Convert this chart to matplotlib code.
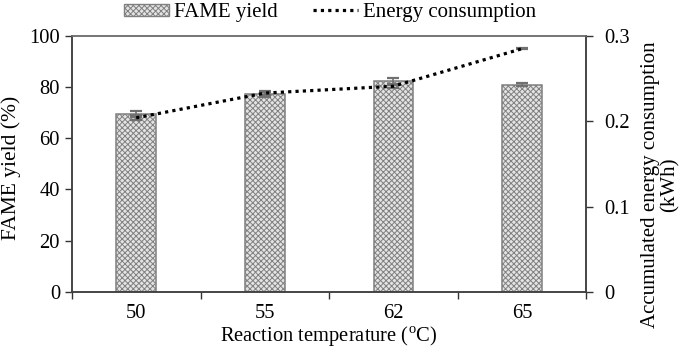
import numpy as np
import matplotlib
matplotlib.use("Agg")
import matplotlib.pyplot as plt
from matplotlib.lines import Line2D
from matplotlib.patches import Patch

plt.rcParams['font.family'] = ['Liberation Serif', 'DejaVu Serif']
plt.rcParams['mathtext.fontset'] = 'custom'
plt.rcParams['mathtext.rm'] = 'Liberation Serif'
plt.rcParams['hatch.color'] = '#9a9a9a'
plt.rcParams['hatch.linewidth'] = 0.7

# datos
temps = ["50", "55", "62", "65"]
fame = [69.5, 77.2, 82.5, 81.0]
fame_err = [1.0, 1.0, 1.2, 0.6]
energy = [0.204, 0.233, 0.241, 0.285]
energy_err = [0.003, 0.002, 0.002, 0.0005]

fs = 14.8
fig = plt.figure(figsize=(6.85, 3.59), dpi=100)
ax = fig.add_axes([0.105, 0.187, 0.751, 0.713])
x = np.arange(len(temps))

ax.bar(x, fame, width=0.31, color='#e4e4e4', edgecolor='#808080', linewidth=1.1,
       hatch='xxxxxx', zorder=2)
ax.errorbar(x, fame, yerr=fame_err, fmt='none', ecolor='#707070', elinewidth=1.2,
            capsize=4, capthick=1.6, zorder=3)
ax.set_xlim(-0.5, 3.5)
ax.set_ylim(0, 100)
ax.set_yticks(range(0, 101, 20))
ax.set_xticks(x)
ax.set_xticklabels(temps)
ax.set_xticks(np.arange(-0.5, 4, 1), minor=True)
ax.tick_params(axis='x', which='major', length=0, pad=9, labelsize=fs)
ax.tick_params(axis='x', which='minor', length=5, direction='out', width=1, color='#333333')
ax.tick_params(axis='y', length=5, direction='out', width=1, labelsize=fs, color='#333333')
ax.set_ylabel("FAME yield (%)", fontsize=15.5)
ax.yaxis.set_label_coords(-0.099, 0.484)
ax.set_xlabel(r"Reaction temperature ($^{\rm o}$C)", fontsize=fs, labelpad=1)

ax2 = ax.twinx()
ax2.plot(x, energy, color='black', linestyle=(0, (1, 1.3)), linewidth=2.3, zorder=4)
ax2.errorbar(x, energy, yerr=energy_err, fmt='none', ecolor='#707070', elinewidth=1.2,
             capsize=4, capthick=1.6, zorder=3)
ax2.set_ylim(0, 0.3)
ax2.set_yticks([0, 0.1, 0.2, 0.3])
ax2.set_yticklabels(["0", "0.1", "0.2", "0.3"])
ax2.tick_params(axis='y', length=5, direction='out', width=1, labelsize=fs, pad=8, color='#333333')
ax2.set_ylabel("Accumulated energy consumption\n(kWh)", fontsize=15, linespacing=1.05)
ax2.yaxis.set_label_coords(1.106, 0.42)

for a in (ax, ax2):
    for s in a.spines.values():
        s.set_color('#404040')
        s.set_linewidth(1.1)
    a.spines['top'].set_color('#707070')

handles = [Patch(facecolor='#e4e4e4', edgecolor='#808080', hatch='xxxxxx'),
           Line2D([0], [0], color='black', linestyle=(0, (1, 1.3)), linewidth=2.3)]
fig.legend(handles, ["FAME yield", "Energy consumption"], loc='center',
           bbox_to_anchor=(0.482, 0.965), ncol=2, frameon=False, fontsize=15,
           handlelength=2.16, handleheight=0.5, columnspacing=1.68, handletextpad=0.25,
           borderpad=0, borderaxespad=0)

fig.savefig("out.png", dpi=100)
